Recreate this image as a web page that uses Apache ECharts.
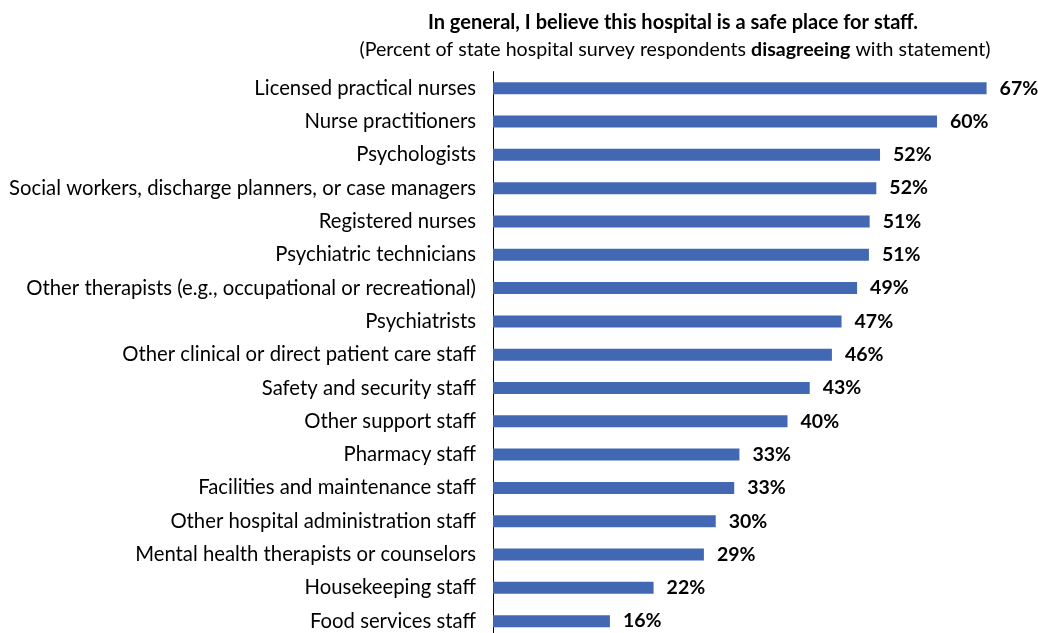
<!DOCTYPE html>
<html>
<head>
<meta charset="utf-8">
<script src="https://cdn.jsdelivr.net/npm/echarts@6/dist/echarts.min.js"></script>
<style>html,body{margin:0;padding:0;background:#fff;overflow:hidden;}#c{width:1038px;height:645px;}</style>
</head>
<body>
<div id="c"></div>
<script>
const categories = [
  "Licensed practical nurses",
  "Nurse practitioners",
  "Psychologists",
  "Social workers, discharge planners, or case managers",
  "Registered nurses",
  "Psychiatric technicians",
  "Other therapists (e.g., occupational or recreational)",
  "Psychiatrists",
  "Other clinical or direct patient care staff",
  "Safety and security staff",
  "Other support staff",
  "Pharmacy staff",
  "Facilities and maintenance staff",
  "Other hospital administration staff",
  "Mental health therapists or counselors",
  "Housekeeping staff",
  "Food services staff"
];
const values = [66.7, 60.0, 52.3, 51.8, 50.9, 50.8, 49.2, 47.1, 45.8, 42.8, 39.8, 33.3, 32.6, 30.1, 28.5, 21.7, 15.8];
const valueLabels = ["67%","60%","52%","52%","51%","51%","49%","47%","46%","43%","40%","33%","33%","30%","29%","22%","16%"];
const titleLine1 = "In general, I believe this hospital is a safe place for staff.";
const titleLine2a = "(Percent of state hospital survey respondents ";
const titleLine2b = "disagreeing";
const titleLine2c = " with statement)";

const FONT = "Lato, 'Open Sans', sans-serif";
const chart = echarts.init(document.getElementById('c'), null, {renderer: 'canvas'});
chart.setOption({
  animation: false,
  backgroundColor: '#fff',
  title: [{
    text: titleLine1,
    left: 668, top: 8, textAlign: 'center',
    textStyle: {fontFamily: FONT, fontSize: 20, fontWeight: 'bold', color: '#000'}
  }, {
    text: '{n|' + titleLine2a + '}{b|' + titleLine2b + '}{n|' + titleLine2c + '}',
    left: 670, top: 35, textAlign: 'center',
    textStyle: {
      fontWeight: 'normal',
      rich: {
        n: {fontFamily: FONT, fontSize: 19.6, fontWeight: 'normal', color: '#000'},
        b: {fontFamily: FONT, fontSize: 19.6, fontWeight: 'bold', color: '#000'}
      }
    }
  }],
  grid: {left: 493, top: 71.6, width: 518, height: 566.2, containLabel: false},
  xAxis: {
    type: 'value', min: 0, max: 70,
    show: false
  },
  yAxis: {
    type: 'category', data: categories, inverse: true,
    axisLine: {show: true, lineStyle: {color: '#000', width: 1}},
    axisTick: {show: false},
    splitLine: {show: false},
    axisLabel: {fontFamily: FONT, fontSize: 20.3, color: '#000', margin: 17}
  },
  series: [{
    type: 'bar',
    data: values,
    barWidth: 12,
    itemStyle: {color: '#4368B3'},
    label: {
      show: true, position: 'right', distance: 13,
      formatter: p => valueLabels[p.dataIndex],
      fontFamily: FONT, fontSize: 19.5, fontWeight: 'bold', color: '#000'
    }
  }]
});
</script>
</body>
</html>
